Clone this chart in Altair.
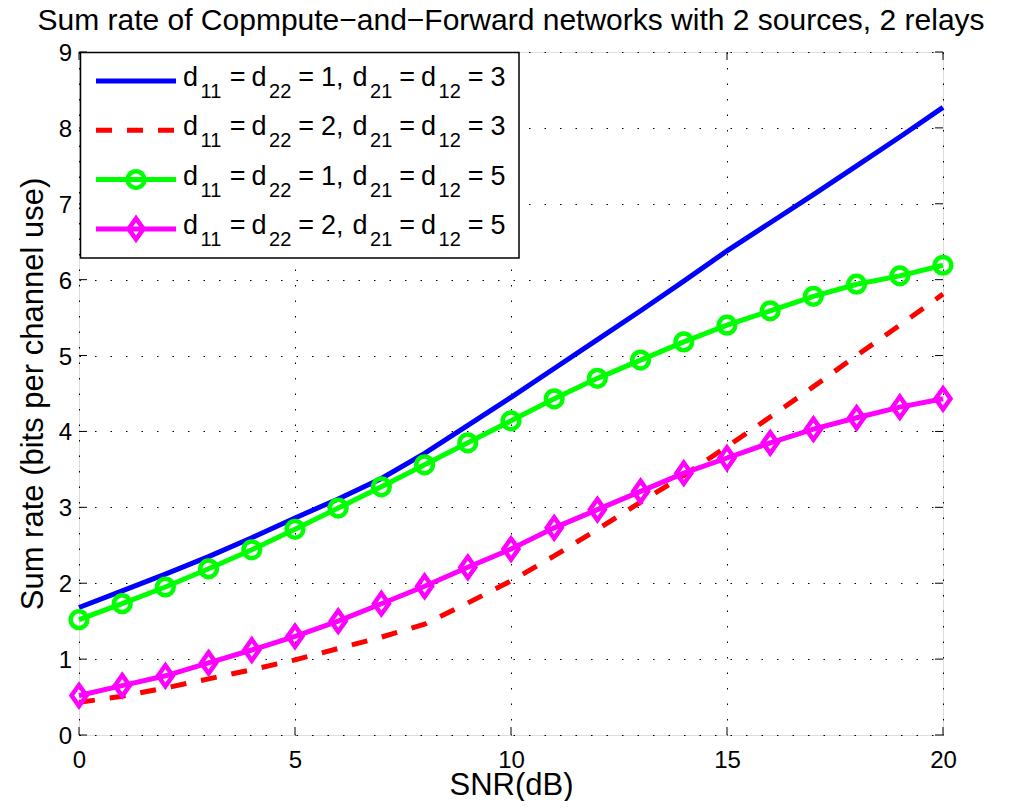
import re
import altair as alt
import pandas as pd

# ---------------- data ----------------
snr = list(range(21))
rate_blue = [1.68, 1.90, 2.12, 2.35, 2.60, 2.86, 3.11, 3.38, 3.71, 4.08, 4.45,
             4.83, 5.21, 5.59, 5.98, 6.38, 6.75, 7.12, 7.50, 7.88, 8.27]
rate_red = [0.43, 0.51, 0.62, 0.74, 0.86, 0.99, 1.14, 1.29, 1.46, 1.74, 2.03,
            2.36, 2.71, 3.07, 3.42, 3.80, 4.19, 4.59, 5.00, 5.40, 5.81]
rate_green = [1.52, 1.73, 1.95, 2.19, 2.44, 2.71, 2.99, 3.27, 3.56, 3.85, 4.14,
              4.43, 4.70, 4.94, 5.18, 5.40, 5.59, 5.78, 5.94, 6.05, 6.19]
rate_magenta = [0.52, 0.65, 0.78, 0.95, 1.12, 1.30, 1.50, 1.73, 1.96, 2.21, 2.45,
                2.73, 2.97, 3.21, 3.45, 3.65, 3.85, 4.03, 4.18, 4.32, 4.43]

labels = [
    "d_{11} = d_{22} = 1, d_{21} = d_{12} = 3",
    "d_{11} = d_{22} = 2, d_{21} = d_{12} = 3",
    "d_{11} = d_{22} = 1, d_{21} = d_{12} = 5",
    "d_{11} = d_{22} = 2, d_{21} = d_{12} = 5",
]
x_ticks = [0, 5, 10, 15, 20]
y_ticks = [0, 1, 2, 3, 4, 5, 6, 7, 8, 9]

title_text = "Sum rate of Copmpute\u2212and\u2212Forward networks with 2 sources, 2 relays"
x_title = "SNR(dB)"
y_title = "Sum rate (bits per channel use)"

# ---------------- style ----------------
W, H = 864, 683
FONT = "Liberation Sans"
BLUE, RED, GREEN, MAGENTA = "#0000ff", "#ff0000", "#00ff00", "#ff00ff"
LW = 5
DASH = [16, 15]
DIAMOND = "M0,-1L0.71,0L0,1L-0.71,0Z"

series = [
    dict(vals=rate_blue, color=BLUE, dash=None, shape=None),
    dict(vals=rate_red, color=RED, dash=DASH, shape=None),
    dict(vals=rate_green, color=GREEN, dash=None, shape="circle"),
    dict(vals=rate_magenta, color=MAGENTA, dash=None, shape=DIAMOND),
]
marker_size = {"circle": 279, DIAMOND: 441}

xscale = alt.Scale(domain=[0, 20], nice=False, zero=False)
yscale = alt.Scale(domain=[0, 9], nice=False, zero=False)

grid_kw = dict(grid=True, gridColor="#000000", gridDash=[1.5, 14], gridWidth=1,
               domain=False, ticks=False, tickSize=0,
               labelFont=FONT, labelFontSize=24, labelColor="#000000",
               labelFlush=False, labelOverlap=False,
               titleFont=FONT, titleFontSize=31, titleFontWeight="normal",
               titleColor="#000000", titleBaseline="alphabetic", titleAlign="center")

xaxis = alt.Axis(values=x_ticks, labelPadding=32.4, labelBaseline="alphabetic",
                 title=x_title, titleX=W / 2, titleY=59.5, **grid_kw)
yaxis = alt.Axis(values=y_ticks, labelPadding=7.5, labelBaseline="alphabetic",
                 labelOffset=8.5, labelAlign="right",
                 title=y_title, titleX=-37, titleY=H / 2, titleAngle=270, **grid_kw)


def X(field):
    return alt.X(field, type="quantitative", scale=xscale, axis=xaxis)


def Y(field):
    return alt.Y(field, type="quantitative", scale=yscale, axis=yaxis)


layers = []

# data lines
for s in series:
    df = pd.DataFrame({"snr": snr, "rate": s["vals"]})
    kw = dict(color=s["color"], strokeWidth=LW, clip=False)
    if s["dash"]:
        kw["strokeDash"] = s["dash"]
    layers.append(alt.Chart(df).mark_line(**kw).encode(x=X("snr"), y=Y("rate")))
    if s["shape"]:
        layers.append(
            alt.Chart(df).mark_point(shape=s["shape"], size=marker_size[s["shape"]],
                                     filled=False, strokeWidth=4.5, color=s["color"],
                                     opacity=1).encode(x=X("snr"), y=Y("rate")))

# inward ticks on all four sides
xt = pd.DataFrame({"t": x_ticks})
yt = pd.DataFrame({"t": y_ticks})
tick_kw = dict(color="#000000", strokeWidth=1)
layers.append(alt.Chart(xt).mark_rule(**tick_kw).encode(x=X("t"), y=alt.value(H), y2=alt.value(H - 8)))
layers.append(alt.Chart(xt).mark_rule(**tick_kw).encode(x=X("t"), y=alt.value(0), y2=alt.value(8)))
layers.append(alt.Chart(yt).mark_rule(**tick_kw).encode(y=Y("t"), x=alt.value(0), x2=alt.value(8)))
layers.append(alt.Chart(yt).mark_rule(**tick_kw).encode(y=Y("t"), x=alt.value(W), x2=alt.value(W - 8)))

one = pd.DataFrame({"k": [0]})

# chart title (as a text mark, to place its baseline exactly)
layers.append(alt.Chart(pd.DataFrame({"title": [title_text]})).mark_text(
    align="center", baseline="alphabetic", font=FONT, fontSize=30, color="#000000").encode(
    x=alt.value(W / 2), y=alt.value(-22), text="title:N"))

# ---------------- legend (drawn by hand to keep subscripts) ----------------
layers.append(alt.Chart(one).mark_rect(fill="white", stroke="#000000", strokeWidth=1.5).encode(
    x=alt.value(1.5), x2=alt.value(440), y=alt.value(0.5), y2=alt.value(206)))

ADV = {"d": 0.556, "=": 0.584, ",": 0.278}
for c in "0123456789":
    ADV[c] = 0.556
F_MAIN, F_SUB = 27, 20


def tokenize(label):
    toks = []
    for part in label.split(" "):
        for m in re.finditer(r"_\{(\w+)\}|([^_{}]+)", part):
            if m.group(1):
                toks.append((m.group(1), True))
            else:
                toks.append((m.group(2), False))
    return toks


def gap(t, nxt, nsub):
    if nsub:
        return 2.5
    if t == "=":
        return 6 if nxt.startswith("d") else 7
    if t.endswith(","):
        return 9
    return 7


rows = []
for i, (lab, s) in enumerate(zip(labels, series)):
    ly = 29 + 49.3 * i
    sample_kw = dict(color=s["color"], strokeWidth=LW)
    if s["dash"]:
        sample_kw["strokeDash"] = s["dash"]
    layers.append(alt.Chart(one).mark_rule(**sample_kw).encode(
        x=alt.value(17), x2=alt.value(97), y=alt.value(ly)))
    if s["shape"]:
        layers.append(alt.Chart(one).mark_point(
            shape=s["shape"], size=marker_size[s["shape"]], filled=False,
            strokeWidth=4.5, color=s["color"], opacity=1).encode(
            x=alt.value(57), y=alt.value(ly)))
    toks = tokenize(lab)
    x = 104.0
    for j, (t, sub) in enumerate(toks):
        fs = F_SUB if sub else F_MAIN
        rows.append({"tok": t, "lx": x, "ly": ly + (17 if sub else 5), "fs": fs})
        x += sum(ADV.get(c, 0.556) for c in t) * fs
        if j + 1 < len(toks):
            nxt, nsub = toks[j + 1]
            x += gap(t, nxt, nsub)

tok_df = pd.DataFrame(rows)
layers.append(alt.Chart(tok_df).mark_text(align="left", baseline="alphabetic", font=FONT,
                                          color="#000000").encode(
    x=alt.X("lx:Q", scale=None),
    y=alt.Y("ly:Q", scale=None),
    text="tok:N",
    size=alt.Size("fs:Q", scale=None)))

chart = alt.layer(*layers).properties(
    width=W, height=H,
    padding={"left": 71, "top": 44, "right": 63, "bottom": 66},
    autosize=alt.AutoSizeParams(type="none"),
).configure_view(stroke="#000000", strokeWidth=1.6).configure(background="white")

chart.save("out.html", embed_options={"renderer": "svg", "actions": False})
